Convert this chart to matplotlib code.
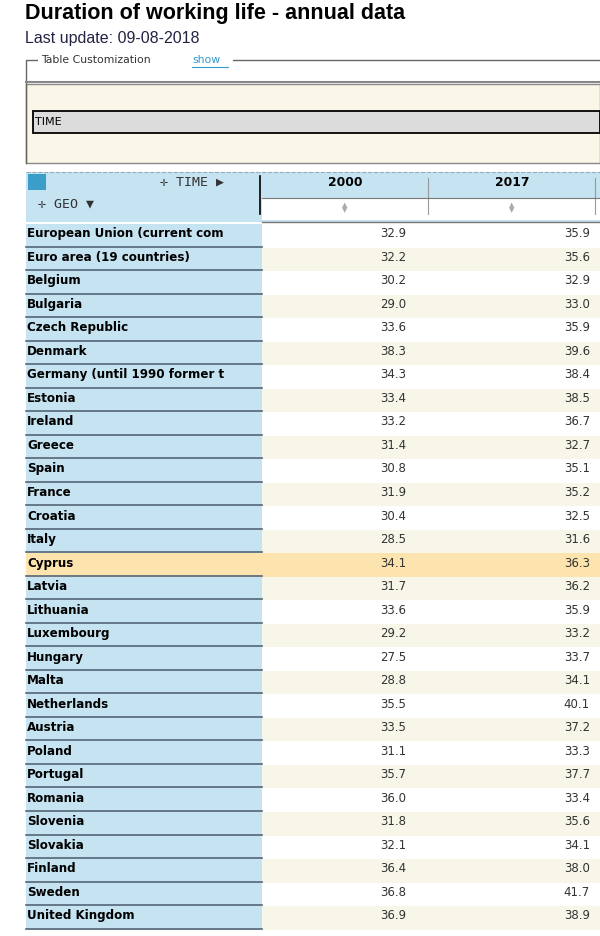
import matplotlib.pyplot as plt
from matplotlib.patches import Rectangle

geo = [
    "European Union (current com", "Euro area (19 countries)", "Belgium", "Bulgaria",
    "Czech Republic", "Denmark", "Germany (until 1990 former t", "Estonia", "Ireland",
    "Greece", "Spain", "France", "Croatia", "Italy", "Cyprus", "Latvia", "Lithuania",
    "Luxembourg", "Hungary", "Malta", "Netherlands", "Austria", "Poland", "Portugal",
    "Romania", "Slovenia", "Slovakia", "Finland", "Sweden", "United Kingdom",
]
years = ["2000", "2017"]
v2000 = [32.9, 32.2, 30.2, 29.0, 33.6, 38.3, 34.3, 33.4, 33.2, 31.4, 30.8, 31.9, 30.4, 28.5,
         34.1, 31.7, 33.6, 29.2, 27.5, 28.8, 35.5, 33.5, 31.1, 35.7, 36.0, 31.8, 32.1, 36.4,
         36.8, 36.9]
v2017 = [35.9, 35.6, 32.9, 33.0, 35.9, 39.6, 38.4, 38.5, 36.7, 32.7, 35.1, 35.2, 32.5, 31.6,
         36.3, 36.2, 35.9, 33.2, 33.7, 34.1, 40.1, 37.2, 33.3, 37.7, 33.4, 35.6, 34.1, 38.0,
         41.7, 38.9]
highlight = "Cyprus"

fig = plt.figure(figsize=(6, 9.36), dpi=100)
ax = fig.add_axes([0, 0, 1, 1])
ax.set_xlim(0, 600)
ax.set_ylim(936, 0)
ax.axis("off")

# page header
ax.text(25, 13, "Duration of working life - annual data", fontsize=15.5, fontweight="bold",
        va="center", family="Liberation Sans")
ax.text(25, 38, "Last update: 09-08-2018", fontsize=11.5, va="center", color="#222244",
        family="Liberation Sans")

# customization box
ax.plot([26, 26, 600], [163, 60, 60], color="#666666", lw=1)
ax.plot([26, 600], [82, 82], color="#888888", lw=1.5)
ax.add_patch(Rectangle((26, 84), 574, 79, facecolor="#faf7e8", edgecolor="#888888", lw=1))
ax.add_patch(Rectangle((33, 111), 567, 22, facecolor="#dcdcdc", edgecolor="black", lw=1.3))
ax.text(35, 122, "TIME", fontsize=8, va="center", family="DejaVu Sans")
ax.add_patch(Rectangle((38, 52), 195, 16, facecolor="white", edgecolor="none", zorder=2))
ax.text(41, 60, "Table Customization", fontsize=7.8, va="center", color="#333333", zorder=3)
ax.text(192, 60, "show", fontsize=7.8, va="center", color="#3399cc", zorder=3)
ax.plot([192, 228], [67, 67], color="#3399cc", lw=0.8, zorder=4)

# table header
ax.add_patch(Rectangle((26, 172), 574, 50, facecolor="#c5e3f0", edgecolor="none"))
ax.add_patch(Rectangle((262, 198), 338, 22, facecolor="white", edgecolor="none"))
ax.plot([26, 600], [172, 172], color="#9ab", lw=0.8, ls="--")
ax.plot([260, 260], [176, 214], color="black", lw=1.2)
ax.plot([428, 428], [178, 214], color="#999999", lw=0.8)
ax.plot([595, 595], [178, 214], color="#999999", lw=0.8)
ax.plot([262, 600], [198, 198], color="#777777", lw=0.8)
ax.plot([262, 600], [222, 222], color="#777777", lw=1)
ax.add_patch(Rectangle((28, 174), 18, 16, facecolor="#3a9ec9", edgecolor="none"))
ax.text(160, 182, "\u271b TIME \u25b6", fontsize=9.5, va="center", family="DejaVu Sans Mono",
        color="#333333")
ax.text(38, 204, "\u271b GEO \u25bc", fontsize=9.5, va="center", family="DejaVu Sans Mono",
        color="#333333")
col_x = [345, 512]
for cx, yr in zip(col_x, years):
    ax.text(cx, 182, yr, fontsize=8.8, fontweight="bold", ha="center", va="center")
    ax.text(cx, 208, "\u25b2\n\u25bc", fontsize=5, ha="center", va="center", color="#aaaaaa",
            linespacing=0.8)

# rows
y0, dy = 224, 23.52
for i, (g, a, b) in enumerate(zip(geo, v2000, v2017)):
    top = y0 + i * dy
    mid = top + dy / 2 - 2
    if g == highlight:
        ax.add_patch(Rectangle((26, top), 574, dy, facecolor="#fde3ad", edgecolor="none"))
    else:
        ax.add_patch(Rectangle((26, top), 236, dy, facecolor="#c5e3f0", edgecolor="none"))
        ax.add_patch(Rectangle((262, top), 338, dy,
                               facecolor="white" if i % 2 == 0 else "#f8f6e9", edgecolor="none"))
    ax.plot([26, 262], [top + dy - 1, top + dy - 1], color="#556677", lw=1.2)
    ax.text(27, mid, g, fontsize=8.6, fontweight="bold", va="center", family="DejaVu Sans")
    ax.text(406, mid, f"{a:.1f}", fontsize=8.5, ha="right", va="center", color="#333333")
    ax.text(590, mid, f"{b:.1f}", fontsize=8.5, ha="right", va="center", color="#333333")

fig.savefig("out.png", dpi=100)
